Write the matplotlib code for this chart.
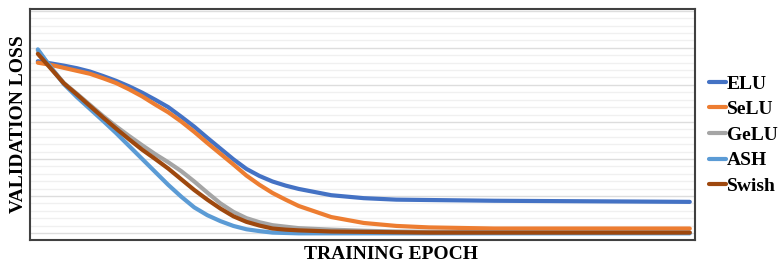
import matplotlib
matplotlib.use("Agg")
import matplotlib.pyplot as plt
from matplotlib.ticker import MultipleLocator

# values (arbitrary loss units, major grid = 1)
epochs = [0, 2, 4, 6, 8, 10, 12, 14, 16, 18, 20, 22, 24, 26, 28, 30, 32, 34, 36, 38, 40,
          45, 50, 55, 60, 70, 80, 90, 100]

elu = [4.64, 4.58, 4.52, 4.45, 4.36, 4.24, 4.11, 3.96, 3.79, 3.60, 3.40, 3.14, 2.87, 2.57,
       2.28, 1.99, 1.73, 1.54, 1.39, 1.28, 1.19, 1.02, 0.94, 0.90, 0.89, 0.87, 0.86, 0.85, 0.84]
selu = [4.60, 4.54, 4.46, 4.38, 4.30, 4.18, 4.05, 3.88, 3.69, 3.47, 3.26, 3.01, 2.73, 2.43,
        2.14, 1.85, 1.55, 1.30, 1.08, 0.90, 0.73, 0.43, 0.27, 0.19, 0.15, 0.12, 0.12, 0.12, 0.12]
gelu = [4.93, 4.47, 4.05, 3.76, 3.46, 3.16, 2.88, 2.62, 2.37, 2.13, 1.91, 1.67, 1.39, 1.09,
        0.80, 0.57, 0.40, 0.29, 0.21, 0.17, 0.13, 0.09, 0.06, 0.04, 0.03, 0.02, 0.01, 0.01, 0.01]
ash = [4.96, 4.47, 4.02, 3.67, 3.35, 3.03, 2.70, 2.35, 2.00, 1.65, 1.30, 0.98, 0.69, 0.48,
       0.32, 0.19, 0.10, 0.05, 0.01, 0.0, -0.01, -0.01, -0.01, -0.01, -0.01, -0.01, -0.01,
       -0.01, -0.01]
swish = [4.84, 4.44, 4.04, 3.74, 3.43, 3.12, 2.82, 2.53, 2.25, 2.00, 1.74, 1.45, 1.16, 0.90,
         0.66, 0.45, 0.30, 0.20, 0.12, 0.09, 0.07, 0.04, 0.03, 0.02, 0.01, 0.01, 0.01, 0.01,
         0.01]

labels = ["ELU", "SeLU", "GeLU", "ASH", "Swish"]
colors = ["#4472C4", "#ED7D31", "#A5A5A5", "#5B9BD5", "#9E480E"]

plt.rcParams["font.family"] = ["Liberation Serif", "DejaVu Serif"]

fig = plt.figure(figsize=(7.78, 2.62), dpi=100)
ax = fig.add_axes([30 / 778, 1 - 240 / 262, 665 / 778, 231 / 262])

for ys, lab, c in zip([elu, selu, gelu, ash, swish], labels, colors):
    ax.plot(epochs, ys, color=c, lw=3, label=lab,
            solid_capstyle="round", solid_joinstyle="round")

ax.set_xlim(-1.2, 100.8)
ax.set_ylim(-0.19, 6.05)
ax.yaxis.set_major_locator(MultipleLocator(1))
ax.yaxis.set_minor_locator(MultipleLocator(0.2))
ax.grid(axis="y", which="major", color="#DDDDDD", lw=1)
ax.grid(axis="y", which="minor", color="#F0F0F0", lw=1)
ax.set_axisbelow(True)
ax.tick_params(which="both", length=0, labelleft=False, labelbottom=False)
for s in ax.spines.values():
    s.set_color("#404040")
    s.set_linewidth(1.5)

ax.set_ylabel("VALIDATION LOSS", fontsize=14, fontweight="bold", labelpad=2)
ax.set_xlabel("TRAINING EPOCH", fontsize=14, fontweight="bold")
ax.xaxis.set_label_coords((391 - 30) / 665, -0.025)
ax.xaxis.label.set_va("top")

fig.legend(loc="center left", bbox_to_anchor=(709 / 778, 1 - 135 / 262), frameon=False,
           prop={"weight": "bold", "size": 14}, handlelength=0.87, handletextpad=0.05,
           labelspacing=0.41, borderpad=0, borderaxespad=0)

fig.savefig("out.png", dpi=100)
